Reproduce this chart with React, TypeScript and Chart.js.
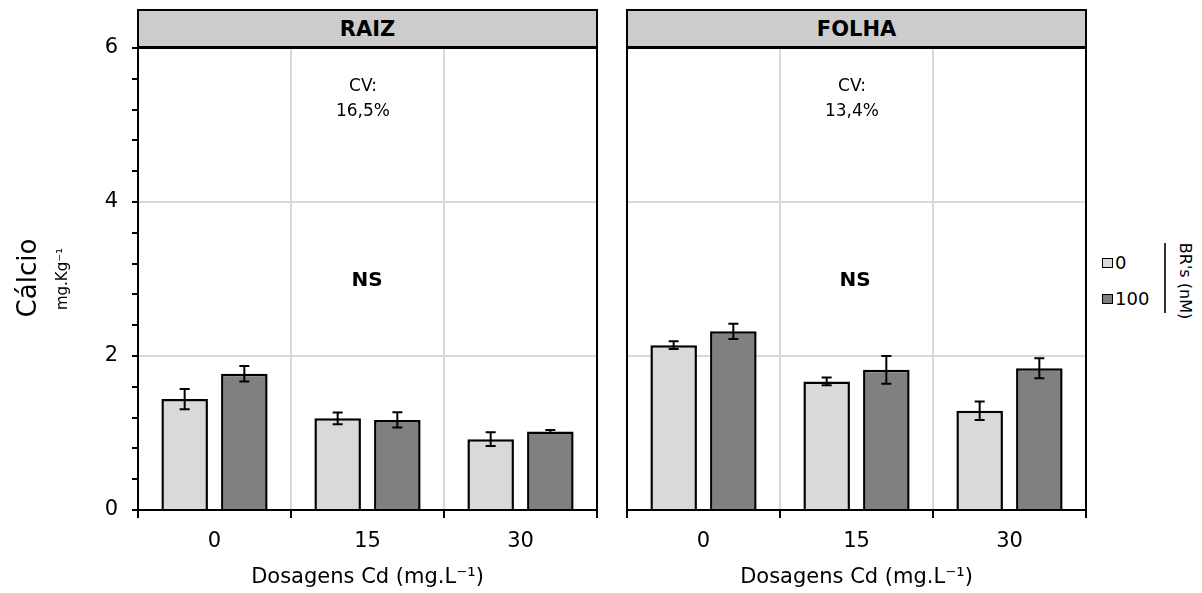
import React, { useEffect, useRef } from "react";
import { Chart, registerables } from "chart.js";

Chart.register(...registerables);

const categories = ["0", "15", "30"];
const seriesLabels = ["0", "100"];
const raizBR0 = [1.44, 1.19, 0.92];
const raizBR0Err = [0.13, 0.075, 0.09];
const raizBR100 = [1.77, 1.17, 1.02];
const raizBR100Err = [0.1, 0.1, 0.02];
const folhaBR0 = [2.14, 1.67, 1.29];
const folhaBR0Err = [0.05, 0.05, 0.12];
const folhaBR100 = [2.32, 1.82, 1.84];
const folhaBR100Err = [0.1, 0.18, 0.13];
const yTickLabels = [0, 2, 4, 6];

const FONT = "'DejaVu Sans', sans-serif";
const LIGHT = "#d9d9d9";
const DARK = "#808080";

const errorBarPlugin = {
  id: "errorBars",
  afterDatasetsDraw(chart: any) {
    const ctx = chart.ctx;
    const y = chart.scales.y;
    ctx.save();
    ctx.strokeStyle = "#000";
    ctx.lineWidth = 2;
    chart.data.datasets.forEach((ds: any, i: number) => {
      const meta = chart.getDatasetMeta(i);
      meta.data.forEach((el: any, j: number) => {
        const v = ds.data[j];
        const e = ds.errors[j];
        const yt = y.getPixelForValue(v + e);
        const yb = y.getPixelForValue(v - e);
        const x = el.x;
        ctx.beginPath();
        ctx.moveTo(x, yt);
        ctx.lineTo(x, yb);
        ctx.moveTo(x - 5, yt);
        ctx.lineTo(x + 5, yt);
        ctx.moveTo(x - 5, yb);
        ctx.lineTo(x + 5, yb);
        ctx.stroke();
      });
    });
    ctx.restore();
  },
};

const frameBorderPlugin = {
  id: "frameBorder",
  afterDraw(chart: any) {
    const a = chart.chartArea;
    const ctx = chart.ctx;
    ctx.save();
    ctx.strokeStyle = "#000";
    ctx.lineWidth = 2;
    ctx.beginPath();
    ctx.moveTo(a.left, a.top);
    ctx.lineTo(a.right, a.top);
    ctx.lineTo(a.right, a.bottom);
    ctx.stroke();
    ctx.restore();
  },
};

function isMajor(v: number) {
  return yTickLabels.some((t) => Math.abs(t - v) < 1e-6);
}

type PanelProps = {
  left: number;
  width: number;
  yAxisWidth: number;
  showYLabels: boolean;
  s0: number[];
  e0: number[];
  s1: number[];
  e1: number[];
};

function Panel(p: PanelProps) {
  const ref = useRef<HTMLCanvasElement | null>(null);
  useEffect(() => {
    if (!ref.current) return;
    const chart = new Chart(ref.current, {
      type: "bar",
      data: {
        labels: categories,
        datasets: [
          {
            label: seriesLabels[0],
            data: p.s0,
            errors: p.e0,
            backgroundColor: LIGHT,
            borderColor: "#000",
            borderWidth: 2.5,
            categoryPercentage: 0.78,
            barPercentage: 0.78,
          } as any,
          {
            label: seriesLabels[1],
            data: p.s1,
            errors: p.e1,
            backgroundColor: DARK,
            borderColor: "#000",
            borderWidth: 2.5,
            categoryPercentage: 0.78,
            barPercentage: 0.78,
          } as any,
        ],
      },
      options: {
        animation: false,
        responsive: true,
        maintainAspectRatio: false,
        layout: { padding: { top: 48, right: 4, left: 0, bottom: 0 } },
        plugins: {
          legend: { display: false },
          tooltip: { enabled: false },
        },
        scales: {
          x: {
            offset: true,
            grid: {
              offset: true,
              color: "#d9d9d9",
              lineWidth: 2,
              tickColor: "#000",
              tickLength: 8,
            },
            border: { color: "#000", width: 2 },
            ticks: {
              color: "#000",
              padding: 11,
              font: { family: FONT, size: 21 },
            },
            title: {
              display: true,
              text: "Dosagens Cd (mg.L⁻¹)",
              color: "#000",
              font: { family: FONT, size: 21 },
              padding: { top: 4, bottom: 3 },
            },
            afterFit: (s: any) => {
              s.height = 83;
            },
          },
          y: {
            min: 0,
            max: 6,
            ticks: {
              stepSize: 0.4,
              autoSkip: false,
              display: p.showYLabels,
              color: "#000",
              padding: 14,
              font: { family: FONT, size: 21 },
              callback: (v: any) => (isMajor(Number(v)) ? String(Math.round(Number(v))) : ""),
            },
            grid: {
              drawTicks: p.showYLabels,
              tickLength: 6,
              tickColor: "#000",
              tickWidth: 2,
              lineWidth: 2,
              color: (c: any) => {
                const v = c.tick ? c.tick.value : -1;
                return isMajor(v) && v > 0 && v < 6 ? "#d9d9d9" : "rgba(0,0,0,0)";
              },
            },
            border: { color: "#000", width: 2 },
            afterFit: (s: any) => {
              s.width = p.yAxisWidth;
            },
          },
        },
      },
      plugins: [errorBarPlugin, frameBorderPlugin],
    });
    return () => chart.destroy();
  }, []);
  return (
    <div style={{ position: "absolute", left: p.left, top: 0, width: p.width, height: 593 }}>
      <canvas ref={ref} />
    </div>
  );
}

const txt: React.CSSProperties = {
  position: "absolute",
  fontFamily: FONT,
  color: "#000",
  whiteSpace: "nowrap",
};

function Header({ left, width, text }: { left: number; width: number; text: string }) {
  return (
    <div
      style={{
        position: "absolute",
        left: left - 1,
        top: 9,
        width: width + 2,
        height: 39,
        boxSizing: "border-box",
        border: "2px solid #000",
        background: "#cccccc",
        fontFamily: FONT,
        fontWeight: "bold",
        fontSize: 21,
        display: "flex",
        alignItems: "center",
        justifyContent: "center",
      }}
    >
      {text}
    </div>
  );
}

function Annot({ cx, nsx, cv }: { cx: number; nsx: number; cv: string }) {
  return (
    <>
      <div style={{ ...txt, left: cx - 60, width: 120, top: 73, textAlign: "center", fontSize: 17, lineHeight: "25px" }}>
        CV:
        <br />
        {cv}
      </div>
      <div style={{ ...txt, left: nsx - 60, width: 120, top: 266, textAlign: "center", fontSize: 20, fontWeight: "bold", lineHeight: "26px" }}>
        NS
      </div>
    </>
  );
}

export default function App() {
  return (
    <div style={{ position: "absolute", left: 0, top: 0, width: 1202, height: 593, background: "#fff", overflow: "hidden" }}>
      <Panel left={0} width={601} yAxisWidth={138} showYLabels={true} s0={raizBR0} e0={raizBR0Err} s1={raizBR100} e1={raizBR100Err} />
      <Panel left={600} width={490} yAxisWidth={27} showYLabels={false} s0={folhaBR0} e0={folhaBR0Err} s1={folhaBR100} e1={folhaBR100Err} />
      <Header left={138} width={459} text="RAIZ" />
      <Header left={627} width={459} text="FOLHA" />
      <Annot cx={363} nsx={367} cv="16,5%" />
      <Annot cx={852} nsx={855} cv="13,4%" />
      {/* Y axis title */}
      <div style={{ ...txt, left: 27 - 60, top: 278 - 16, width: 120, height: 32, lineHeight: "32px", textAlign: "center", fontSize: 26, transform: "rotate(-90deg)" }}>
        Cálcio
      </div>
      <div style={{ ...txt, left: 62 - 50, top: 279 - 10, width: 100, height: 20, lineHeight: "20px", textAlign: "center", fontSize: 15, transform: "rotate(-90deg)" }}>
        mg.Kg⁻¹
      </div>
      {/* Legend */}
      <div style={{ ...txt, left: 1102, top: 252, fontSize: 18, lineHeight: "22px", display: "flex", alignItems: "center" }}>
        <span style={{ display: "inline-block", width: 9, height: 8, background: LIGHT, border: "1.5px solid #000", marginRight: 2 }} />
        {seriesLabels[0]}
      </div>
      <div style={{ ...txt, left: 1102, top: 288, fontSize: 18, lineHeight: "22px", display: "flex", alignItems: "center" }}>
        <span style={{ display: "inline-block", width: 9, height: 8, background: DARK, border: "1.5px solid #000", marginRight: 2 }} />
        {seriesLabels[1]}
      </div>
      <div style={{ position: "absolute", left: 1164, top: 243, width: 1.5, height: 70, background: "#333" }} />
      <div style={{ ...txt, left: 1185 - 50, top: 281 - 10, width: 100, height: 20, lineHeight: "20px", textAlign: "center", fontSize: 16, transform: "rotate(90deg)" }}>
        BR's (nM)
      </div>
    </div>
  );
}
